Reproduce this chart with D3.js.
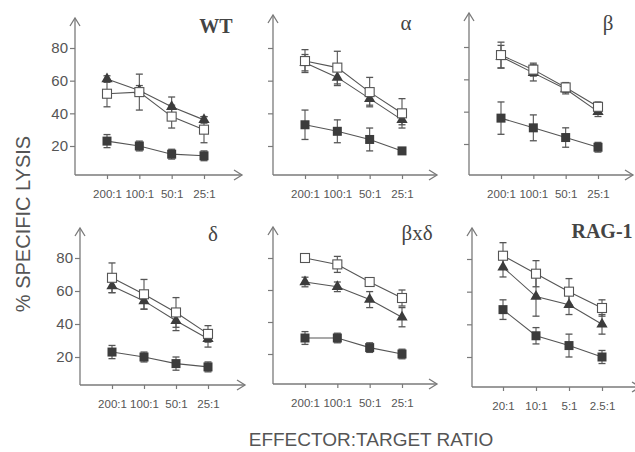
<!DOCTYPE html>
<html>
<head>
<meta charset="utf-8">
<script src="https://cdn.jsdelivr.net/npm/d3@7"></script>
<style>
  html, body { margin: 0; padding: 0; background: #ffffff; }
  svg { display: block; }
  text { font-family: "Liberation Sans", Arial, sans-serif; }
</style>
</head>
<body>
<svg id="chart" width="635" height="452"></svg>
<script>
// ---------- DATA ----------
const panelTitles = ["WT", "α", "β", "δ", "βxδ", "RAG-1"];
const ratiosMain = ["200:1", "100:1", "50:1", "25:1"];
const ratiosRag = ["20:1", "10:1", "5:1", "2.5:1"];
const yTicks = [20, 40, 60, 80];

// open squares (per panel, per ratio)
const openSquare = [
  [52, 53, 38, 30],
  [72, 68, 53, 40],
  [75, 66, 55, 43],
  [68, 58, 47, 34],
  [80, 76, 65, 55],
  [82, 71, 60, 50]
];
const openSquareErr = [
  [8, 11, 7, 8],
  [7, 10, 9, 9],
  [8, 4, 3, 3],
  [9, 9, 9, 5],
  [2, 5, 2, 5],
  [8, 8, 8, 5]
];
// filled triangles
const triangle = [
  [61, 54, 44, 36],
  [71, 62, 49, 36],
  [74, 64, 54, 40],
  [63, 54, 42, 31],
  [65, 62, 54, 43],
  [75, 57, 52, 40]
];
const triangleErr = [
  [2, 3, 6, 2],
  [5, 5, 4, 3],
  [7, 5, 3, 3],
  [4, 5, 6, 5],
  [3, 3, 5, 6],
  [6, 12, 6, 6]
];
// filled squares
const filledSquare = [
  [23, 20, 15, 14],
  [33, 29, 24, 17],
  [36, 30, 24, 18],
  [23, 20, 16, 14],
  [30, 30, 24, 20],
  [49, 33, 27, 20]
];
const filledSquareErr = [
  [4, 3, 3, 3],
  [9, 7, 7, 2],
  [10, 8, 6, 3],
  [4, 3, 4, 3],
  [4, 3, 3, 3],
  [6, 5, 7, 4]
];

// ---------- LAYOUT ----------
const frames = [
  { axX: 75,  axY: 175, top: 18,  right: 242, y80: 48,  y20: 146, x0: 107, x3: 204, showY: true,  tx: 216, ty: 33,  tsize: 20, bold: true },
  { axX: 273, axY: 175, top: 15,  right: 437, y80: 48,  y20: 146, x0: 305, x3: 402, showY: false, tx: 406, ty: 30,  tsize: 21, bold: false },
  { axX: 469, axY: 175, top: 13,  right: 633, y80: 47,  y20: 144, x0: 501, x3: 598, showY: false, tx: 608, ty: 30,  tsize: 21, bold: false },
  { axX: 80,  axY: 385, top: 228, right: 245, y80: 258, y20: 357, x0: 112, x3: 208, showY: true,  tx: 213, ty: 241, tsize: 21, bold: false },
  { axX: 273, axY: 384, top: 227, right: 437, y80: 258, y20: 354, x0: 305, x3: 402, showY: false, tx: 417, ty: 240, tsize: 21, bold: false },
  { axX: 472, axY: 387, top: 228, right: 640, y80: 259, y20: 357, x0: 503, x3: 602, showY: false, tx: 602, ty: 238, tsize: 20, bold: true }
];

const axisColor = "#7a7a7a";
const textColor = "#555";
const markColor = "#3c3c3c";
const lineColor = "#555";

const svg = d3.select("#chart");

frames.forEach((f, i) => {
  const g = svg.append("g");
  const cats = i === 5 ? ratiosRag : ratiosMain;
  const x = d3.scalePoint().domain(cats).range([f.x0, f.x3]);
  const y = d3.scaleLinear().domain([20, 80]).range([f.y20, f.y80]);

  // axis lines with open arrows
  g.append("line").attr("x1", f.axX).attr("y1", f.axY).attr("x2", f.axX).attr("y2", f.top)
    .attr("stroke", axisColor).attr("stroke-width", 1.3);
  g.append("path").attr("d", `M${f.axX - 5},${f.top + 8} L${f.axX},${f.top} L${f.axX + 5},${f.top + 8}`)
    .attr("fill", "none").attr("stroke", axisColor).attr("stroke-width", 1.3);
  g.append("line").attr("x1", f.axX).attr("y1", f.axY).attr("x2", f.right).attr("y2", f.axY)
    .attr("stroke", axisColor).attr("stroke-width", 1.3);
  g.append("path").attr("d", `M${f.right - 8},${f.axY - 5} L${f.right},${f.axY} L${f.right - 8},${f.axY + 5}`)
    .attr("fill", "none").attr("stroke", axisColor).attr("stroke-width", 1.3);

  // y axis ticks
  const ya = d3.axisLeft(y).tickValues(yTicks).tickSize(5).tickPadding(2)
    .tickFormat(f.showY ? d3.format("d") : () => "");
  const yg = g.append("g").attr("transform", `translate(${f.axX},0)`).call(ya);
  yg.select(".domain").remove();
  yg.selectAll(".tick line").attr("stroke", axisColor).attr("stroke-width", 1.2);
  yg.selectAll(".tick text").attr("fill", textColor).style("font-size", "15px")
    .style("font-family", "'Liberation Sans', Arial, sans-serif");

  // x axis ticks
  const xa = d3.axisBottom(x).tickSize(4).tickPadding(11);
  const xg = g.append("g").attr("transform", `translate(0,${f.axY})`).call(xa);
  xg.select(".domain").remove();
  xg.selectAll(".tick line").attr("stroke", axisColor).attr("stroke-width", 1.2);
  xg.selectAll(".tick text").attr("fill", textColor).style("font-size", "11.5px")
    .style("font-family", "'Liberation Sans', Arial, sans-serif");

  // title
  g.append("text").attr("x", f.tx).attr("y", f.ty).attr("text-anchor", "middle")
    .style("font-family", "'Liberation Serif', 'Times New Roman', serif")
    .style("font-size", f.tsize + "px").style("font-weight", f.bold ? "bold" : "normal")
    .attr("fill", "#444").text(panelTitles[i]);

  const series = [
    { vals: filledSquare[i], err: filledSquareErr[i], type: "fsq" },
    { vals: triangle[i], err: triangleErr[i], type: "tri" },
    { vals: openSquare[i], err: openSquareErr[i], type: "osq" }
  ];

  const line = d3.line().x((d, j) => x(cats[j])).y(d => y(d));

  series.forEach(s => {
    // error bars
    s.vals.forEach((v, j) => {
      const cx = x(cats[j]);
      const lo = y(v - s.err[j]), hi = y(v + s.err[j]);
      g.append("line").attr("x1", cx).attr("x2", cx).attr("y1", lo).attr("y2", hi)
        .attr("stroke", lineColor).attr("stroke-width", 1.1);
      [lo, hi].forEach(yy => g.append("line").attr("x1", cx - 3.5).attr("x2", cx + 3.5)
        .attr("y1", yy).attr("y2", yy).attr("stroke", lineColor).attr("stroke-width", 1.3));
    });
    // connecting line
    g.append("path").datum(s.vals).attr("d", line)
      .attr("fill", "none").attr("stroke", lineColor).attr("stroke-width", 1.1);
  });

  series.forEach(s => {
    s.vals.forEach((v, j) => {
      const cx = x(cats[j]), cy = y(v);
      if (s.type === "tri") {
        g.append("path").attr("d", d3.symbol().type(d3.symbolTriangle).size(55)())
          .attr("transform", `translate(${cx},${cy})`).attr("fill", markColor);
      } else if (s.type === "fsq") {
        g.append("rect").attr("x", cx - 4.5).attr("y", cy - 4.5).attr("width", 9).attr("height", 9)
          .attr("fill", markColor);
      } else {
        g.append("rect").attr("x", cx - 4.5).attr("y", cy - 4.5).attr("width", 9).attr("height", 9)
          .attr("fill", "#fff").attr("stroke", "#555").attr("stroke-width", 1.1);
      }
    });
  });
});

// axis labels
svg.append("text").attr("transform", "translate(30,224) rotate(-90)")
  .attr("text-anchor", "middle").attr("fill", textColor)
  .style("font-size", "20px").text("% SPECIFIC LYSIS");
svg.append("text").attr("x", 371).attr("y", 446)
  .attr("text-anchor", "middle").attr("fill", textColor)
  .style("font-size", "19px").text("EFFECTOR:TARGET RATIO");
</script>
</body>
</html>
